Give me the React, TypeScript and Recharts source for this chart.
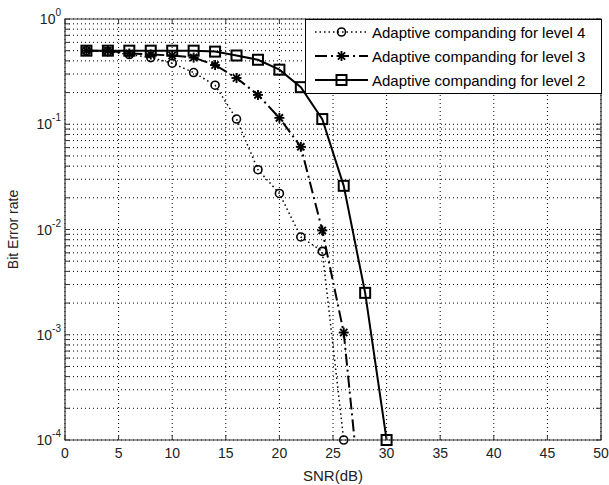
import React from 'react';
import {
  LineChart,
  Line,
  XAxis,
  YAxis,
  CartesianGrid,
  ReferenceArea,
  Legend,
  Label,
} from 'recharts';

document.body.style.margin = '0';

// SNR (dB) and bit error rate
const snrLevel4 = [2, 4, 6, 8, 10, 12, 14, 16, 18, 20, 22, 24, 26];
const berLevel4 = [0.5, 0.49, 0.46, 0.43, 0.38, 0.31, 0.235, 0.112, 0.037, 0.022, 0.0085, 0.0062, 0.0001];

const snrLevel3 = [2, 4, 6, 8, 10, 12, 14, 16, 18, 20, 22, 24, 26, 28];
const berLevel3 = [0.5, 0.5, 0.47, 0.46, 0.45, 0.43, 0.365, 0.275, 0.19, 0.115, 0.061, 0.0098, 0.00105, 0.00001];

const snrLevel2 = [2, 4, 6, 8, 10, 12, 14, 16, 18, 20, 22, 24, 26, 28, 30];
const berLevel2 = [0.5, 0.5, 0.5, 0.5, 0.5, 0.5, 0.49, 0.45, 0.41, 0.33, 0.225, 0.112, 0.026, 0.0025, 0.0001];

const seriesNames = [
  'Adaptive companding for level 4',
  'Adaptive companding for level 3',
  'Adaptive companding for level 2',
];

const xTicks = [0, 5, 10, 15, 20, 25, 30, 35, 40, 45, 50];
const decades = [1e-4, 1e-3, 1e-2, 1e-1, 1];
const decadeExponents = ['-4', '-3', '-2', '-1', '0'];
const minorSteps = [2, 3, 4, 5, 6, 7, 8, 9];

const yTicks = [
  ...decades,
  ...decades.slice(0, -1).flatMap((d) => minorSteps.map((m) => d * m)),
].sort((a, b) => a - b);

// layout
const W = 609;
const H = 485;
const MARGIN = { top: 19, right: 8, bottom: 0, left: 0 };
const Y_AXIS_W = 65;
const X_AXIS_H = 45;
const PLOT_LEFT = MARGIN.left + Y_AXIS_W;
const PLOT_RIGHT = W - MARGIN.right;
const PLOT_TOP = MARGIN.top;
const PLOT_BOTTOM = H - MARGIN.bottom - X_AXIS_H;
const TICK = 5;
const FONT = "'Liberation Sans', Arial, Helvetica, sans-serif";
const AXIS_COLOR = '#333';
const Y_DOMAIN = [1e-4, 1];

const toPoints = (xs: number[], ys: number[]) => xs.map((x, i) => ({ x, ber: ys[i] }));
const dataLevel4 = toPoints(snrLevel4, berLevel4);
const dataLevel3 = toPoints(snrLevel3, berLevel3);
const dataLevel2 = toPoints(snrLevel2, berLevel2);
// markers only where the value is inside the axis range
const visible = (d: { ber: number }[]) => d.filter((p) => p.ber >= Y_DOMAIN[0]);

function XTick(props: any) {
  const { x, payload } = props;
  return (
    <g>
      <line x1={x} x2={x} y1={PLOT_BOTTOM} y2={PLOT_BOTTOM - TICK} stroke={AXIS_COLOR} />
      <line x1={x} x2={x} y1={PLOT_TOP} y2={PLOT_TOP + TICK} stroke={AXIS_COLOR} />
      <text x={x} y={PLOT_BOTTOM + 18} textAnchor="middle" fontFamily={FONT} fontSize={14} fill="#222">
        {payload.value}
      </text>
    </g>
  );
}

function YTick(props: any) {
  const { y, payload } = props;
  const v = payload.value;
  const idx = decades.findIndex((d) => Math.abs(d - v) < d * 1e-6);
  return (
    <g>
      <line x1={PLOT_LEFT} x2={PLOT_LEFT + TICK} y1={y} y2={y} stroke={AXIS_COLOR} />
      <line x1={PLOT_RIGHT - TICK} x2={PLOT_RIGHT} y1={y} y2={y} stroke={AXIS_COLOR} />
      {idx >= 0 && (
        <text x={PLOT_LEFT - 4} y={y + 5} textAnchor="end" fontFamily={FONT} fontSize={14} fill="#222">
          <tspan>10</tspan>
          <tspan dy={-8} fontSize={10}>
            {decadeExponents[idx]}
          </tspan>
        </text>
      )}
    </g>
  );
}

function CircleMark({ cx, cy }: { cx: number; cy: number }) {
  return <circle cx={cx} cy={cy} r={4} fill="none" stroke="#000" strokeWidth={1.6} />;
}

function StarMark({ cx, cy }: { cx: number; cy: number }) {
  const s = 5;
  const d = 3.6;
  return (
    <g stroke="#000" strokeWidth={1.9}>
      <line x1={cx - s} x2={cx + s} y1={cy} y2={cy} />
      <line x1={cx} x2={cx} y1={cy - s} y2={cy + s} />
      <line x1={cx - d} x2={cx + d} y1={cy - d} y2={cy + d} />
      <line x1={cx - d} x2={cx + d} y1={cy + d} y2={cy - d} />
    </g>
  );
}

function SquareMark({ cx, cy }: { cx: number; cy: number }) {
  return <rect x={cx - 5} y={cy - 5} width={10} height={10} fill="none" stroke="#000" strokeWidth={2} />;
}

const dotFor = (Mark: any) => (p: any) => <Mark key={p.index} cx={p.cx} cy={p.cy} />;

function LegendBox() {
  const rows = [
    { dash: '1.5 3', width: 1.5, Mark: CircleMark },
    { dash: '12 4 2 4', width: 2, Mark: StarMark },
    { dash: undefined, width: 2, Mark: SquareMark },
  ];
  return (
    <svg width={297} height={75}>
      <rect x={0.5} y={0.5} width={296} height={74} fill="#fff" stroke="#000" />
      {rows.map((r, i) => {
        const cy = 13 + i * 24;
        return (
          <g key={i}>
            <line x1={10} x2={63} y1={cy} y2={cy} stroke="#000" strokeWidth={r.width} strokeDasharray={r.dash} />
            <r.Mark cx={36.5} cy={cy} />
            <text x={67} y={cy + 5.5} fontFamily={FONT} fontSize={15} fill="#000">
              {seriesNames[i]}
            </text>
          </g>
        );
      })}
    </svg>
  );
}

export default function App() {
  return (
    <div style={{ width: W, height: H, background: '#fff' }}>
      <LineChart width={W} height={H} margin={MARGIN}>
        <CartesianGrid stroke="#000" strokeDasharray="1 3" strokeWidth={1} />
        <XAxis
          dataKey="x"
          type="number"
          domain={[0, 50]}
          ticks={xTicks}
          interval={0}
          height={X_AXIS_H}
          axisLine={false}
          tickLine={false}
          tick={<XTick />}
        >
          <Label
            value="SNR(dB)"
            position="insideBottom"
            offset={4}
            style={{ fill: '#222', fontSize: 15, fontFamily: FONT }}
          />
        </XAxis>
        <YAxis
          scale="log"
          domain={Y_DOMAIN}
          allowDataOverflow
          ticks={yTicks}
          interval={0}
          width={Y_AXIS_W}
          axisLine={false}
          tickLine={false}
          tick={<YTick />}
        >
          <Label
            content={() => (
              <text
                x={14}
                y={(PLOT_TOP + PLOT_BOTTOM) / 2}
                transform={`rotate(-90 14 ${(PLOT_TOP + PLOT_BOTTOM) / 2})`}
                textAnchor="middle"
                dominantBaseline="middle"
                fontFamily={FONT}
                fontSize={14}
                fill="#222"
              >
                Bit Error rate
              </text>
            )}
          />
        </YAxis>
        {/* same log scale, no clipping, used for the markers */}
        <YAxis yAxisId="marks" scale="log" domain={Y_DOMAIN} hide />
        <ReferenceArea x1={0} x2={50} y1={1e-4} y2={1} fill="none" stroke={AXIS_COLOR} strokeWidth={1.2} />

        <Line
          data={dataLevel4}
          dataKey="ber"
          stroke="#000"
          strokeWidth={1.5}
          strokeDasharray="1.5 3"
          dot={false}
          isAnimationActive={false}
        />
        <Line
          data={dataLevel3}
          dataKey="ber"
          stroke="#000"
          strokeWidth={2}
          strokeDasharray="12 4 2 4"
          dot={false}
          isAnimationActive={false}
        />
        <Line
          data={dataLevel2}
          dataKey="ber"
          stroke="#000"
          strokeWidth={2}
          dot={false}
          isAnimationActive={false}
        />

        <Line
          yAxisId="marks"
          data={visible(dataLevel4)}
          dataKey="ber"
          stroke="none"
          dot={dotFor(CircleMark)}
          isAnimationActive={false}
        />
        <Line
          yAxisId="marks"
          data={visible(dataLevel3)}
          dataKey="ber"
          stroke="none"
          dot={dotFor(StarMark)}
          isAnimationActive={false}
        />
        <Line
          yAxisId="marks"
          data={visible(dataLevel2)}
          dataKey="ber"
          stroke="none"
          dot={dotFor(SquareMark)}
          isAnimationActive={false}
        />

        <Legend
          layout="vertical"
          align="center"
          verticalAlign="middle"
          content={() => <LegendBox />}
          wrapperStyle={{ left: 305, top: 19, width: 297, height: 75 }}
        />
      </LineChart>
    </div>
  );
}
